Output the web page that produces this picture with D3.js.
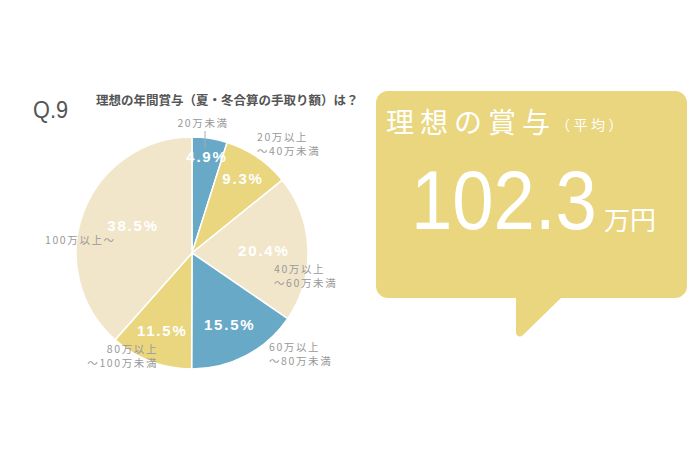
<!DOCTYPE html>
<html>
<head>
  <meta charset="utf-8">
  <title>理想の年間賞与</title>
  <style>
    body { margin: 0; background: #fff; }
    svg { display: block; }
    .jp { font-family: "Noto Sans CJK JP", sans-serif; }
  </style>
</head>
<body>
  <svg width="690" height="460"></svg>
  <script src="https://d3js.org/d3.v7.min.js"></script>
  <script>
    // データ
    const categories = ["20万未満", "20万以上～40万未満", "40万以上～60万未満", "60万以上～80万未満", "80万以上～100万未満", "100万以上～"];
    const values = [4.9, 9.3, 20.4, 15.5, 11.5, 38.5];
    const labelLines = [["20万未満"], ["20万以上", "～40万未満"], ["40万以上", "～60万未満"], ["60万以上", "～80万未満"], ["80万以上", "～100万未満"], ["100万以上～"]];
    const sliceColors = ["#67a9c7", "#e9d67f", "#f2e6ca", "#67a9c7", "#e9d67f", "#f2e6ca"];
    const averageValue = "102.3";

    const svg = d3.select("svg");
    const cx = 192, cy = 253, r = 116;

    // 見出し
    svg.append("text")
      .attr("x", 33).attr("y", 118)
      .attr("font-family", "Liberation Sans Narrow, Liberation Sans, sans-serif")
      .attr("font-size", 24).attr("fill", "#555")
      .attr("textLength", 35).attr("lengthAdjust", "spacingAndGlyphs")
      .text("Q.9");
    svg.append("text")
      .attr("class", "jp")
      .attr("x", 96).attr("y", 105)
      .attr("font-size", 12.5).attr("font-weight", "bold").attr("fill", "#555")
      .text("理想の年間賞与（夏・冬合算の手取り額）は？");

    // 円グラフ
    const pie = d3.pie().sort(null).value(d => d);
    const arcs = pie(values);
    const arc = d3.arc().innerRadius(0).outerRadius(r);
    const g = svg.append("g").attr("transform", `translate(${cx},${cy})`);

    g.selectAll("path.slice")
      .data(arcs)
      .enter().append("path")
      .attr("class", "slice")
      .attr("d", arc)
      .attr("fill", (d, i) => sliceColors[i])
      .attr("stroke", "#fff")
      .attr("stroke-width", 1.5);

    // パーセント表示（中心からの距離と角度のずれ）
    const pctPos = [[0.84, 0], [0.78, 0], [0.62, 0], [0.7, 0], [0.72, 0], [0.56, 0.07]];
    g.selectAll("text.pct")
      .data(arcs)
      .enter().append("text")
      .attr("class", "pct")
      .attr("transform", (d, i) => {
        const a = (d.startAngle + d.endAngle) / 2 + pctPos[i][1];
        const rr = r * pctPos[i][0];
        return `translate(${rr * Math.sin(a)},${-rr * Math.cos(a)})`;
      })
      .attr("text-anchor", "middle")
      .attr("dy", "0.36em")
      .attr("font-family", "Liberation Sans, sans-serif")
      .attr("font-weight", "bold")
      .attr("font-size", 15)
      .attr("letter-spacing", 1.8)
      .attr("fill", "#fff")
      .text(d => d.data.toFixed(1) + "%");

    // 区分ラベル
    const labelPos = [
      { x: 203, y: 127, anchor: "middle" },
      { x: 257, y: 141, anchor: "start" },
      { x: 274, y: 273, anchor: "start" },
      { x: 269, y: 351, anchor: "start" },
      { x: 158, y: 353, anchor: "end" },
      { x: 45, y: 244, anchor: "start" }
    ];
    labelLines.forEach((lines, i) => {
      const t = svg.append("text")
        .attr("class", "jp")
        .attr("x", labelPos[i].x).attr("y", labelPos[i].y)
        .attr("text-anchor", labelPos[i].anchor)
        .attr("font-size", 10.5).attr("letter-spacing", 1.6)
        .attr("fill", "#999");
      lines.forEach((s, k) => {
        t.append("tspan").attr("x", labelPos[i].x).attr("dy", k ? 13.5 : 0).text(s);
      });
    });
    // 20万未満の引き出し線
    svg.append("line")
      .attr("x1", 205).attr("y1", 131).attr("x2", 205).attr("y2", 148)
      .attr("stroke", "#aaa").attr("stroke-width", 1);

    // 吹き出し
    const bx = 376, by = 91, bw = 311, bh = 207, br = 12;
    const bubble = d3.path();
    bubble.moveTo(bx + br, by);
    bubble.lineTo(bx + bw - br, by);
    bubble.arcTo(bx + bw, by, bx + bw, by + br, br);
    bubble.lineTo(bx + bw, by + bh - br);
    bubble.arcTo(bx + bw, by + bh, bx + bw - br, by + bh, br);
    bubble.lineTo(561, by + bh);
    bubble.lineTo(522, 336);
    bubble.arcTo(516, 340, 516, 332, 4);
    bubble.lineTo(516, by + bh);
    bubble.lineTo(bx + br, by + bh);
    bubble.arcTo(bx, by + bh, bx, by + bh - br, br);
    bubble.lineTo(bx, by + br);
    bubble.arcTo(bx, by, bx + br, by, br);
    bubble.closePath();
    svg.append("path").attr("d", bubble.toString()).attr("fill", "#e9d67f");

    const head = svg.append("text")
      .attr("class", "jp")
      .attr("x", 386).attr("y", 133)
      .attr("fill", "#fff");
    head.append("tspan").attr("font-size", 28).attr("letter-spacing", 6).text("理想の賞与");
    head.append("tspan").attr("font-size", 14).attr("letter-spacing", 3.5).attr("dy", -3).text("（平均）");

    // 平均値（横に少し詰める）
    svg.append("g")
      .attr("transform", "translate(411,229) scale(0.895,1)")
      .append("text")
      .attr("fill", "#fff")
      .attr("font-family", "Liberation Sans, sans-serif")
      .attr("font-size", 83)
      .text(averageValue);
    svg.append("text")
      .attr("class", "jp")
      .attr("x", 604).attr("y", 230)
      .attr("fill", "#fff")
      .attr("font-size", 26)
      .text("万円");
  </script>
</body>
</html>
